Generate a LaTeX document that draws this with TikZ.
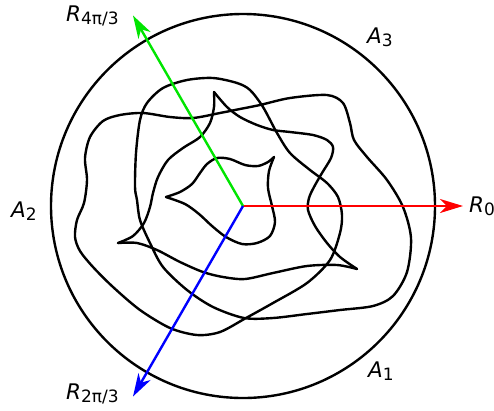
\documentclass[tikz,border=0pt]{standalone}
\usepackage{fontspec}
\setmainfont{DejaVu Sans}
\usetikzlibrary{arrows.meta}
\newcommand\mysub[1]{\raisebox{-3.5pt}{\fontsize{17}{19}\selectfont #1}}
\begin{document}
\begin{tikzpicture}[x=1pt,y=-1pt,
  curve/.style={line width=2.4pt, line join=round, line cap=round},
  ray/.style={line width=2.4pt, -{Stealth[length=23pt,width=14pt,inset=7pt]}},
  lab/.style={anchor=base west, inner sep=0pt, font=\fontsize{21.5}{24}\selectfont}]
\useasboundingbox (0,0) rectangle (494,410);
\coordinate (O) at (243,206);
\coordinate (E0) at (463,206);
\coordinate (E1) at (133,15.5);
\coordinate (E2) at (133,396.5);
% outer circle
\draw[curve] (O) circle[radius=192];
% inner curve
\draw[curve] plot[smooth, tension=0.5] coordinates {(166,197) (180,192) (192,184) (200,173) (207,164) (217,158) (230,159) (245,165) (258,166) (268,162) (274,157)};
\draw[curve] plot[smooth, tension=0.5] coordinates {(274,157) (269,171) (268,188) (272,206) (275,222) (270,236) (257,243) (242,244) (226,237) (212,226) (199,214) (185,204) (166,197)};
% three-cusp curve
\draw[curve] plot[smooth, tension=0.5] coordinates {(214,92) (214,107) (210,123) (200,137) (183,148) (168,160) (158,177) (153,193) (150,207) (144,223) (133,236) (118,243)};
\draw[curve] plot[smooth, tension=0.5] coordinates {(118,243) (137,243) (157,250) (180,262) (203,272) (223,277) (245,279) (273,273) (307,266) (337,265) (357,269)};
\draw[curve] plot[smooth, tension=0.5] coordinates {(357,269) (340,257) (327,243) (315,226) (308,210) (309,198) (314,187) (322,173) (331,158) (333,147) (327,140) (313,135) (290,132) (273,130) (257,125) (240,117) (227,107) (214,92)};
% big self-crossing curve
\draw[curve] plot[smooth cycle, tension=0.5] coordinates {(213,78) (237,83) (250,90) (263,107) (277,133) (290,153) (310,170) (327,183) (338,197) (342,215) (340,233) (330,260) (307,283) (273,303) (246,318) (220,332) (197,335) (170,328) (140,310) (113,287) (93,267) (80,251) (75,237) (77,220) (84,203) (87,180) (85,158) (90,137) (103,121) (120,115) (143,113) (170,117) (193,118) (220,113) (240,109) (260,105) (290,98) (327,95) (343,103) (350,123) (354,140) (367,157) (387,180) (403,207) (411,238) (407,272) (393,296) (373,306) (340,310) (307,314) (273,318) (244,318) (213,307) (187,290) (163,267) (150,243) (140,220) (137,200) (135,187) (136,153) (140,120) (147,103) (163,88) (187,80)};
% rays
\draw[ray, red] (O) -- (E0);
\draw[ray, green!90!black] (O) -- (E1);
\draw[ray, blue] (O) -- (E2);
% labels
\node[lab] (r0) at (469,212) {\textit{R}\mysub{0}};
\node[lab] (r4) at (66,21) {\textit{R}\mysub{4π/3}};
\node[lab] (r2) at (66,399) {\textit{R}\mysub{2π/3}};
\node[lab] (a3) at (367,43) {\textit{A}\mysub{3}};
\node[lab] (a2) at (11,217) {\textit{A}\mysub{2}};
\node[lab] (a1) at (368,377) {\textit{A}\mysub{1}};
\end{tikzpicture}
\end{document}
